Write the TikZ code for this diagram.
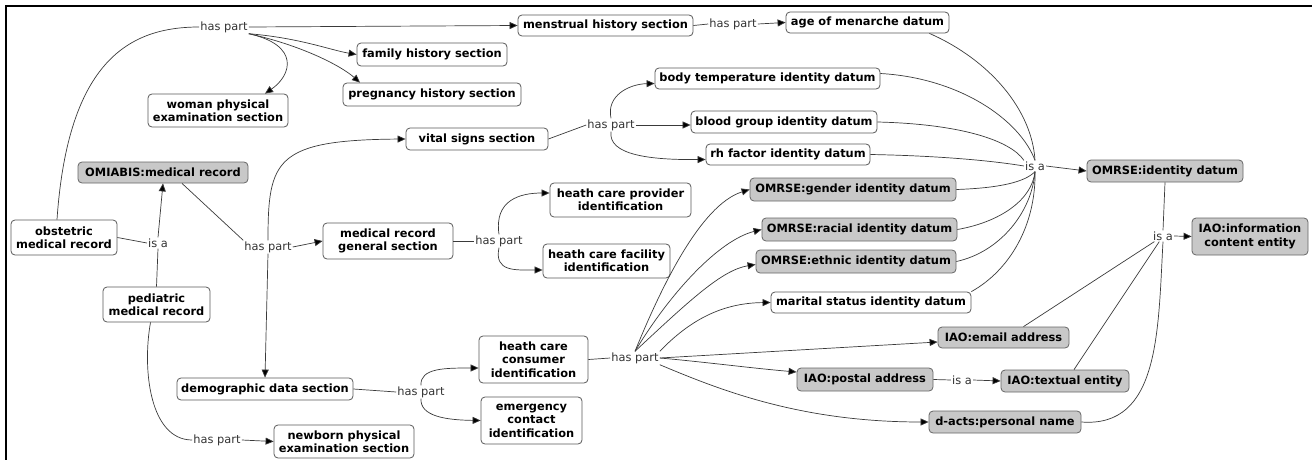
\documentclass[tikz,border=0pt]{standalone}
\usepackage{fontspec}
\setmainfont{DejaVu Sans}
\usetikzlibrary{arrows.meta}
\definecolor{nodegray}{HTML}{C8C8C8}
\definecolor{edgecol}{HTML}{3A3A3A}
\begin{document}
\begin{tikzpicture}[x=1pt,y=-1pt,
  box/.style={draw=black!65, line width=0.8pt, rounded corners=4pt, fill=white, inner sep=0pt, align=center, font=\bfseries\fontsize{11.4}{13.4}\selectfont},
  gbox/.style={box, fill=nodegray, draw=black!60},
  wh/.style 2 args={minimum width=#1pt, minimum height=#2pt},
  lab/.style={inner sep=1pt, font=\fontsize{11.4}{13}\selectfont, text=black!80},
  conn/.style={draw=edgecol, line width=0.7pt},
  arr/.style={conn, -{Triangle[length=8pt,width=7pt,fill=black]}}]
\useasboundingbox (0,0) rectangle (1312,460);
\draw[line width=2pt] (1312,6) -- (6,6) -- (6,460);

% nodes
\node[box, wh={150}{23}] (fam) at (432,54.5) {family history section};
\node[box, wh={178}{23}] (preg) at (432,94.5) {pregnancy history section};
\node[box, wh={140}{33}] (woman) at (218,110.5) {woman physical\\examination section};
\node[box, wh={142}{22}] (vital) at (477,139) {vital signs section};
\node[box, wh={175}{21}] (menst) at (605.5,25.5) {menstrual history section};
\node[box, wh={163}{21}] (menarche) at (867.5,22.5) {age of menarche datum};
\node[box, wh={225}{21}] (bodyt) at (767.5,78.5) {body temperature identity datum};
\node[box, wh={186}{22}] (blood) at (784,122) {blood group identity datum};
\node[box, wh={164}{21}] (rh) at (788,154.5) {rh factor identity datum};
\node[gbox, wh={156}{22}] (omrseid) at (1165,171) {OMRSE:identity datum};
\node[gbox, wh={170}{21}] (omiabis) at (163,172.5) {OMIABIS:medical record};
\node[box, wh={106}{35}] (obst) at (64,237.5) {obstetric\\medical record};
\node[box, wh={107}{35}] (ped) at (156.5,304.5) {pediatric\\medical record};
\node[box, wh={130}{36}] (mrgs) at (388,241) {medical record\\general section};
\node[box, wh={141}{34}] (hcprov) at (620.5,200) {heath care provider\\identification};
\node[box, wh={127}{34}] (hcfac) at (606.5,261) {heath care facility\\identification};
\node[gbox, wh={206}{23}] (gender) at (853,189.5) {OMRSE:gender identity datum};
\node[gbox, wh={195}{23}] (racial) at (859.5,229.5) {OMRSE:racial identity datum};
\node[gbox, wh={200}{23}] (ethnic) at (856,261.5) {OMRSE:ethnic identity datum};
\node[box, wh={200}{21}] (marital) at (871,302.5) {marital status identity datum};
\node[gbox, wh={116}{37}] (iaoice) at (1250,236.5) {IAO:information\\content entity};
\node[box, wh={176}{22}] (demo) at (265,389) {demographic data section};
\node[box, wh={140}{33}] (newborn) at (344,441.5) {newborn physical\\examination section};
\node[box, wh={109}{47}] (hccons) at (533.5,359.5) {heath care\\consumer\\identification};
\node[box, wh={101}{47}] (emerg) at (531.5,420.5) {emergency\\contact\\identification};
\node[gbox, wh={131}{21}] (email) at (1003.5,337.5) {IAO:email address};
\node[gbox, wh={136}{23}] (postal) at (865,379.5) {IAO:postal address};
\node[gbox, wh={128}{22}] (textual) at (1065,381) {IAO:textual entity};
\node[gbox, wh={152}{22}] (pname) at (1005,422) {d-acts:personal name};

% labels
\node[lab] (hp1) at (224,27) {has part};
\node[lab] (hp2) at (733,24) {has part};
\node[lab] (hp3) at (611,125) {has part};
\node[lab] (isa1) at (1035,166) {is a};
\node[lab] (isa2) at (158,243) {is a};
\node[lab] (hp4) at (268,247) {has part};
\node[lab] (hp5) at (499,241) {has part};
\node[lab] (isa3) at (1163,236) {is a};
\node[lab] (hp6) at (421,392) {has part};
\node[lab] (hp7) at (217,440) {has part};
\node[lab] (hp8) at (635,358) {has part};
\node[lab] (isa4) at (962,380) {is a};

% connectors
\draw[conn] ([xshift=-7pt]obst.north) .. controls (68,60) and (130,27) .. (hp1.west);
\draw[arr] (hp1.east) -- (menst.west);
\draw[arr] (hp1.south east) .. controls (300,38) and (330,50) .. (fam.west);
\draw[arr] (hp1.south east) .. controls (300,45) and (340,65) .. ([xshift=-72pt]preg.north);
\draw[arr] (hp1.south east) .. controls (300,45) and (292,75) .. ([xshift=47pt]woman.north);
\draw[conn] (menst.east) -- (hp2.west);
\draw[arr] (hp2.east) -- (menarche.west);

\draw[conn] (obst.east) -- (isa2.west);
\draw[conn] (ped.north) -- (isa2.south);
\draw[arr] (isa2.north) -- (omiabis.south);

\draw[conn] ([xshift=19pt]omiabis.south) -- (hp4.north west);
\draw[arr] (hp4.east) -- (mrgs.west);
\draw[arr] (hp4.north) .. controls (268,160) and (275,140) .. (vital.west);
\draw[arr] (hp4.south) -- (demo.north);

\draw[conn] ([xshift=-6pt]ped.south) .. controls (142,370) and (150,440) .. (hp7.west);
\draw[arr] (hp7.east) -- (newborn.west);

\draw[conn] (vital.east) -- (hp3.west);
\draw[arr] (hp3.north) .. controls (606,95) and (630,84) .. ([yshift=-5pt]bodyt.west);
\draw[arr] (hp3.east) -- ([yshift=-3pt]blood.west);
\draw[arr] (hp3.south) .. controls (608,155) and (650,160) .. ([yshift=-5pt]rh.west);

\draw[conn] (mrgs.east) -- (hp5.west);
\draw[arr] (hp5.north) .. controls (494,200) and (520,193) .. ([yshift=7pt]hcprov.west);
\draw[arr] (hp5.south) .. controls (494,272) and (515,270) .. ([yshift=-9pt]hcfac.west);

\draw[conn] ([xshift=-20pt]menarche.south east) .. controls (990,60) and (1032,110) .. (isa1.north);
\draw[conn] ([yshift=5pt]bodyt.east) .. controls (960,78) and (1020,120) .. (isa1.north);
\draw[conn] (blood.east) .. controls (960,124) and (1010,140) .. (isa1.north west);
\draw[conn] (rh.east) .. controls (950,156) and (1000,162) .. (isa1.west);
\draw[conn] (gender.east) .. controls (1000,188) and (1025,182) .. (isa1.south);
\draw[conn] (racial.east) .. controls (1000,222) and (1032,200) .. (isa1.south);
\draw[conn] (ethnic.east) .. controls (1000,252) and (1032,212) .. (isa1.south);
\draw[conn] (marital.north east) .. controls (1010,270) and (1036,225) .. (isa1.south);
\draw[arr] (isa1.east) -- (omrseid.west);

\draw[conn] (omrseid.south) -- (isa3.north);
\draw[conn] ([xshift=20pt]email.north) -- (isa3);
\draw[conn] ([xshift=9pt]textual.north) -- (isa3);
\draw[conn] (pname.east) .. controls (1160,428) and (1158,330) .. (isa3.south);
\draw[arr] (isa3.east) -- (iaoice.west);

\draw[conn] (hccons.east) -- (hp8.west);
\draw[arr] (hp8.north) .. controls (660,290) and (700,205) .. (gender.west);
\draw[arr] (hp8.north) .. controls (672,290) and (720,240) .. (racial.west);
\draw[arr] (hp8.north) .. controls (690,300) and (722,270) .. ([yshift=-3pt]ethnic.west);
\draw[arr] (hp8.north east) .. controls (690,320) and (722,303) .. (marital.west);
\draw[arr] (hp8.east) -- ([yshift=-4.5pt]email.west);
\draw[arr] (hp8.east) .. controls (705,362) and (750,368) .. ([yshift=7.5pt]postal.west);
\draw[arr] (hp8.south east) .. controls (720,390) and (800,422) .. (pname.west);

\draw[conn] (postal.east) -- (isa4.west);
\draw[arr] (isa4.east) -- (textual.west);

\draw[conn] (demo.east) -- (hp6.west);
\draw[arr] (hp6.north) .. controls (420,368) and (445,368) .. ([yshift=-8.5pt]hccons.west);
\draw[arr] (hp6.south) .. controls (420,416) and (445,420) .. (emerg.west);
\end{tikzpicture}
\end{document}
